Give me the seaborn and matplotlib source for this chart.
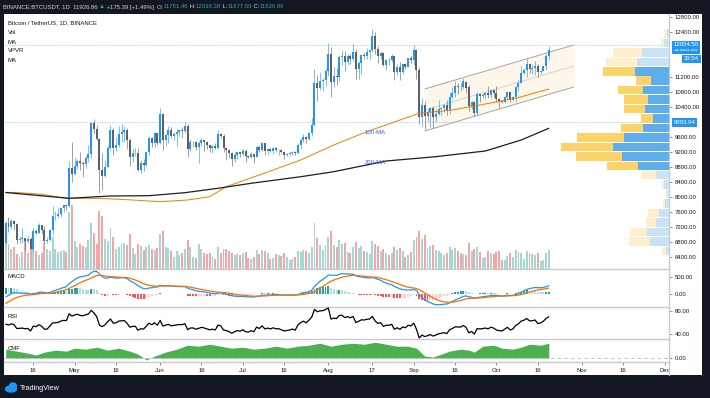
import numpy as np
import pandas as pd
import matplotlib
matplotlib.use("Agg")
import matplotlib.pyplot as plt
import matplotlib.dates as mdates
import matplotlib.transforms as mtransforms
from matplotlib.patches import Rectangle, Ellipse
from matplotlib.lines import Line2D
import seaborn as sns

# ---------------- data (daily candles, 2020-04-06 .. 2020-10-20) ----------------
first_day = "2020-04-06"
closes = [
    7296, 7197, 7361, 7283, 6858, 6877, 6903, 6837, 6868, 6621, 7097, 7046, 7255, 7127, 6835, 6849, 7131, 7483, 7505, 7539, 7697, 7774, 7758, 8785, 8621,
    8826, 8973, 8894, 8872, 9031, 9151, 9986, 9804, 9541, 8723, 8561, 8810, 9310, 9792, 9316, 9381, 9681, 9733, 9775, 9511, 9068, 9170, 9179, 8720, 8900, 8842, 9204, 9575, 9427, 9698, 9448,
    10200, 9518, 9666, 9789, 9622, 9667, 9746, 9782, 9772, 9885, 9280, 9466, 9474, 9343, 9427, 9525, 9465, 9386, 9310, 9358, 9294, 9686, 9624, 9296, 9250, 9162, 9012, 9116, 9192, 9138,
    9232, 9087, 9058, 9135, 9070, 9342, 9253, 9428, 9233, 9288, 9234, 9303, 9243, 9252, 9189, 9132, 9154, 9171, 9209, 9162, 9391, 9519, 9603, 9538, 9700, 9932, 11030, 10909, 11100, 11112, 11351,
    11801, 11072, 11230, 11190, 11744, 11762, 11595, 11755, 11676, 11878, 11411, 11584, 11784, 11769, 11865, 11911, 12281, 11945, 11755, 11853, 11529, 11664, 11649, 11752, 11322, 11462, 11323, 11537, 11471, 11700, 11649,
    11921, 11388, 10140, 10446, 10166, 10256, 10373, 10126, 10221, 10336, 10386, 10441, 10329, 10671, 10785, 10954, 10939, 10933, 11080, 10920, 10417, 10529, 10241, 10736, 10686, 10728, 10775, 10709, 10844, 10776,
    10619, 10570, 10542, 10666, 10788, 10599, 10669, 10925, 11050, 11296, 11384, 11555, 11426, 11430, 11506, 11323, 11362, 11496, 11751, 11927,
]
highs = [
    7355, 7459, 7420, 7378, 7295, 6950, 7177, 6910, 6990, 6940, 7180, 7150, 7310, 7265, 7220, 6943, 7155, 7760, 7615, 7700, 7720, 7795, 7780, 8950, 9460,
    9060, 9010, 9200, 8950, 9100, 9395, 9990, 10067, 9915, 9574, 9168, 8980, 9400, 9930, 9845, 9588, 9888, 9950, 9900, 9842, 9567, 9271, 9310, 9300, 8979, 9016, 9225, 9625, 9609, 9740, 9700,
    10380, 10228, 9690, 9881, 9858, 9735, 9802, 9800, 9880, 9990, 9950, 9557, 9488, 9494, 9500, 9580, 9540, 9490, 9400, 9400, 9438, 9780, 9700, 9670, 9324, 9285, 9196, 9190, 9230, 9200,
    9299, 9270, 9125, 9195, 9139, 9376, 9353, 9460, 9450, 9320, 9300, 9343, 9340, 9280, 9275, 9205, 9186, 9190, 9240, 9220, 9430, 9540, 9670, 9640, 9730, 10111, 11420, 11250, 11345, 11180, 11450,
    12120, 12000, 11480, 11430, 11800, 11915, 11900, 11810, 11810, 12068, 11940, 11615, 11800, 11850, 11980, 11930, 12486, 12400, 12020, 11885, 11880, 11690, 11718, 11824, 11770, 11540, 11590, 11550, 11580, 11715, 11770,
    12050, 11950, 11460, 10630, 10570, 10340, 10410, 10440, 10350, 10580, 10400, 10480, 10580, 10800, 10940, 11100, 11040, 11040, 11180, 11090, 10990, 10570, 10550, 10790, 10760, 10780, 10800, 10960, 10860, 10860,
    10950, 10640, 10600, 10690, 10800, 10800, 10685, 10955, 11110, 11490, 11430, 11720, 11560, 11550, 11635, 11540, 11400, 11500, 11820, 12038,
]
lows = [
    6766, 7077, 7150, 7108, 6752, 6765, 6780, 6555, 6765, 6605, 6540, 7002, 7033, 7053, 6758, 6780, 6821, 7020, 7388, 7437, 7470, 7608, 7660, 7736, 8400,
    8580, 8753, 8710, 8533, 8763, 8938, 9050, 9715, 9520, 8117, 8200, 8528, 8800, 9256, 9130, 9220, 9330, 9464, 9460, 9286, 8815, 8933, 9090, 8700, 8632, 8700, 8811, 9110, 9330, 9335, 9380,
    9420, 9266, 9365, 9450, 9581, 9528, 9373, 9633, 9570, 9700, 9080, 9232, 9325, 9246, 8910, 9366, 9237, 9288, 9208, 9181, 9276, 9282, 9574, 9205, 8994, 9035, 8833, 8938, 9014, 9062,
    9094, 8940, 9040, 9050, 8900, 9060, 9198, 9235, 9130, 9115, 9190, 9150, 9200, 9112, 9170, 9005, 9090, 9120, 9125, 9130, 9147, 9280, 9460, 9450, 9525, 9640, 9900, 10560, 10850, 10840, 10970,
    11216, 10660, 10930, 11000, 11093, 11530, 11350, 11520, 11560, 11630, 11150, 11160, 11280, 11685, 11690, 11670, 11880, 11815, 11570, 11675, 11500, 11380, 11525, 11590, 11120, 11260, 11125, 11285, 11420, 11460, 11575,
    11520, 11160, 9960, 9870, 9825, 10040, 9875, 9850, 10000, 10200, 10200, 10260, 10200, 10215, 10620, 10670, 10740, 10820, 10890, 10780, 10300, 10350, 10150, 10190, 10530, 10640, 10620, 10650, 10640, 10670,
    10525, 10380, 10500, 10520, 10610, 10530, 10570, 10530, 10830, 11050, 11270, 11200, 11300, 11270, 11250, 11200, 11290, 11350, 11400, 11677,
]
# volume, thousand BTC
volumes = [
    82, 62, 50, 55, 37, 30, 42, 70, 40, 55, 75, 45, 35, 40, 65, 50, 45, 80, 50, 42, 45, 48, 42, 142, 160,
    70, 55, 62, 58, 55, 72, 115, 90, 62, 145, 132, 75, 70, 102, 80, 50, 55, 62, 65, 60, 88, 52, 38, 62, 58, 48, 55, 60, 50, 48, 52,
    88, 95, 55, 52, 45, 30, 45, 35, 40, 50, 72, 55, 30, 28, 62, 50, 40, 38, 40, 30, 25, 55, 40, 50, 50, 45, 40, 35, 38, 35,
    40, 42, 28, 25, 30, 48, 38, 48, 45, 40, 25, 28, 38, 35, 32, 40, 30, 22, 25, 30, 45, 42, 48, 45, 40, 55, 115, 78, 60, 48, 60,
    80, 95, 60, 55, 72, 62, 65, 42, 40, 55, 68, 52, 58, 45, 42, 38, 70, 62, 58, 45, 50, 40, 35, 40, 55, 48, 52, 45, 30, 35, 42,
    72, 80, 95, 75, 85, 52, 58, 60, 48, 45, 40, 35, 40, 55, 48, 52, 45, 40, 38, 35, 65, 45, 50, 55, 42, 28, 30, 45, 40, 38,
    42, 45, 22, 22, 32, 40, 30, 48, 42, 40, 25, 45, 40, 38, 35, 40, 20, 22, 40, 48,
]
# closes before the visible window (2020-02-15 .. 2020-04-05), used to seed MACD / RSI
warmup_closes = [
    9900, 9930, 9700, 10180, 9600, 9610, 9690, 9660, 9960, 9660, 9320, 8790, 8790, 8670, 8530,
    8530, 8920, 8760, 8760, 9070, 9150, 8890, 8030, 7935, 7895, 7935, 4800, 5580, 5170, 5360, 5030,
    5330, 5420, 6190, 6190, 6190, 5830, 6470, 6760, 6690, 6760, 6370, 6250, 5880, 6390, 6410,
    6640, 6790, 6735, 6860, 6775,
]

ma100_dates = ["2020-04-06", "2020-04-11", "2020-04-19", "2020-04-28", "2020-05-10", "2020-05-22", "2020-06-01",
               "2020-06-11", "2020-06-19", "2020-06-25", "2020-07-07", "2020-07-22", "2020-08-03", "2020-08-15",
               "2020-08-27", "2020-09-03", "2020-09-15", "2020-09-25", "2020-10-08", "2020-10-20"]
ma100_values = [8125, 8115, 8072, 7965, 7965, 7920, 7875, 7920, 8008, 8275, 8587, 8987, 9387, 9742,
                10053, 10232, 10320, 10453, 10632, 10880]
ma200_dates = ["2020-04-06", "2020-04-16", "2020-04-29", "2020-05-14", "2020-05-28", "2020-06-10", "2020-06-22",
               "2020-07-04", "2020-07-22", "2020-08-03", "2020-08-22", "2020-09-09", "2020-09-27", "2020-10-10",
               "2020-10-20"]
ma200_values = [8120, 8053, 7965, 8027, 8035, 8115, 8232, 8365, 8541, 8675, 8960, 9075, 9227, 9520, 9832]

cmf_dates = ["2020-04-06", "2020-04-10", "2020-04-14", "2020-04-17", "2020-04-20", "2020-04-24", "2020-04-28",
             "2020-05-01", "2020-05-05", "2020-05-09", "2020-05-13", "2020-05-17", "2020-05-21", "2020-05-24",
             "2020-05-27", "2020-05-30", "2020-06-03", "2020-06-07", "2020-06-11", "2020-06-15", "2020-06-19",
             "2020-06-23", "2020-06-27", "2020-07-01", "2020-07-05", "2020-07-09", "2020-07-13", "2020-07-17",
             "2020-07-21", "2020-07-25", "2020-07-29", "2020-08-02", "2020-08-06", "2020-08-10", "2020-08-14",
             "2020-08-18", "2020-08-22", "2020-08-26", "2020-08-30", "2020-09-02", "2020-09-05", "2020-09-08",
             "2020-09-11", "2020-09-14", "2020-09-18", "2020-09-21", "2020-09-23", "2020-09-26", "2020-09-30",
             "2020-10-03", "2020-10-07", "2020-10-10", "2020-10-13", "2020-10-17", "2020-10-20"]
cmf_values = [0.09, 0.07, 0.05, 0.03, 0.06, 0.08, 0.07, 0.10, 0.09, 0.11, 0.08, 0.10, 0.07, 0.04,
              -0.02, 0.02, 0.06, 0.09, 0.13, 0.12, 0.14, 0.12, 0.10, 0.11, 0.09, 0.10, 0.12, 0.10,
              0.12, 0.13, 0.15, 0.12, 0.14, 0.15, 0.14, 0.16, 0.14, 0.12, 0.12, 0.10, 0.02, 0.01,
              0.04, 0.07, 0.09, 0.08, 0.06, 0.12, 0.13, 0.10, 0.09, 0.11, 0.14, 0.13, 0.15]

channel_dates = ["2020-09-05", "2020-10-29"]
channel_upper = [10880, 12053]
channel_lower = [9760, 10933]

# visible range volume profile, 24 rows, bottom -> top
vp_low, vp_high = 6440, 12486
vp_up = [60, 380, 434, 260, 206, 80, 34, 100, 260, 626, 946, 1114, 894, 520, 314, 474, 426, 526, 360, 680, 646, 546, 100, 40]
vp_down = [86, 420, 346, 200, 208, 40, 26, 46, 274, 608, 920, 1046, 952, 440, 246, 420, 468, 494, 300, 634, 614, 580, 66, 60]
vp_value_area = range(9, 20)

shown_price_ticks = [6400, 6800, 7200, 7600, 8000, 8400, 8800, 9200, 9600, 10400, 10800, 11200, 12400, 12800]
tick_dates = ["2020-04-16", "2020-05-01", "2020-05-16", "2020-06-01", "2020-06-16", "2020-07-01", "2020-07-16",
              "2020-08-01", "2020-08-17", "2020-09-01", "2020-09-16", "2020-10-01", "2020-10-16", "2020-11-01",
              "2020-11-16", "2020-12-01"]
tick_labels = ["16", "May", "16", "Jun", "16", "Jul", "16", "Aug", "17", "Sep", "16", "Oct", "16", "Nov", "16", "Dec"]

# ---------------- derived series ----------------
def dnum(d):
    return mdates.date2num(pd.to_datetime(d))

x = mdates.date2num(pd.date_range(first_day, periods=len(closes), freq="D"))
c = np.array(closes, float)
o = np.array([warmup_closes[-1]] + closes[:-1], float)
up = c >= o

allc = pd.Series(warmup_closes + closes, dtype=float)
ema12 = allc.ewm(span=12, adjust=False).mean()
ema26 = allc.ewm(span=26, adjust=False).mean()
macd = ema12 - ema26
signal = macd.ewm(span=9, adjust=False).mean()
hist = macd - signal
delta = allc.diff()
gain = delta.clip(lower=0).ewm(alpha=1 / 14, adjust=False).mean()
loss = (-delta.clip(upper=0)).ewm(alpha=1 / 14, adjust=False).mean()
rsi = 100 - 100 / (1 + gain / loss)
n = len(closes)
macd, signal, hist, rsi = (s.to_numpy()[-n:] for s in (macd, signal, hist, rsi))
hist_prev = np.concatenate([[hist[0]], hist[:-1]])

# ---------------- styling ----------------
sns.set_theme(style="white")
plt.rcParams["font.family"] = ["Liberation Sans", "DejaVu Sans"]

W, H = 710, 398
BG = "#131722"
UP, DOWN = "#2196f3", "#5d606b"
SEP = "#c9cbd1"
TXT = "#131722"
FS = 4.3


def rect(x0, y0, x1, y1):
    return [x0 / W, 1 - y1 / H, (x1 - x0) / W, (y1 - y0) / H]


fig = plt.figure(figsize=(W / 100, H / 100), dpi=100, facecolor=BG)
fig.add_artist(Rectangle((4 / W, 1 - 375 / H), 698 / W, 361 / H, transform=fig.transFigure,
                         facecolor="white", edgecolor="none", zorder=-10))

xlim = (dnum("2020-04-16") - 10.63, dnum("2020-04-16") + 230.6)
ylim = (6080, 12880)

ax_vol = fig.add_axes(rect(4, 14, 669, 269))
ax = fig.add_axes(rect(4, 14, 669, 269))
ax_vp = fig.add_axes(rect(4, 14, 669, 269))
ax_macd = fig.add_axes(rect(4, 269, 669, 307))
ax_rsi = fig.add_axes(rect(4, 307, 669, 339))
ax_cmf = fig.add_axes(rect(4, 339, 669, 362))

for a in (ax_vol, ax, ax_vp, ax_macd, ax_rsi, ax_cmf):
    a.set_facecolor("none")
    a.set_xlim(*xlim)
    for s in ("top", "left"):
        a.spines[s].set_visible(False)
    for s in ("right", "bottom"):
        a.spines[s].set_color(SEP)
        a.spines[s].set_linewidth(1.0)
    a.tick_params(axis="x", bottom=False, labelbottom=False)
    a.yaxis.tick_right()
    a.tick_params(axis="y", right=True, length=2, width=0.6, color="#787b86", pad=2,
                  labelsize=FS, labelcolor=TXT)
ax_vol.axis("off")
ax_vp.axis("off")

# volume under the candles
ax_vol.bar(x, volumes, width=0.7, color=np.where(up, "#a5d8d2", "#f5a6a4"), linewidth=0)
ax_vol.set_ylim(0, 640)

# price panel
ax.set_ylim(*ylim)
ax.set_yticks(shown_price_ticks)
ax.set_yticklabels([f"{p:.2f}" for p in shown_price_ticks])

cx = [dnum(d) for d in channel_dates]
mid = [(a + b) / 2 for a, b in zip(channel_upper, channel_lower)]
ax.fill_between(cx, channel_lower, channel_upper, color="#fdf3e4", alpha=0.75, linewidth=0, zorder=1)
ax.plot(cx, channel_upper, color="#aaa59e", lw=0.7, zorder=1.5)
ax.plot(cx, channel_lower, color="#aaa59e", lw=0.7, zorder=1.5)
ax.plot(cx, mid, color="#d3cec7", lw=0.6, zorder=1.5)

for lvl in (12054.50, 9993.94):
    ax.axhline(lvl, color="#9cc7f2", lw=0.6, ls=(0, (1.5, 1.5)), zorder=1)

colors = np.where(up, UP, DOWN)
ax.vlines(x, lows, highs, colors=colors, linewidth=0.6, alpha=0.7, zorder=2)
ax.bar(x, np.maximum(np.abs(c - o), 12), bottom=np.minimum(o, c), width=0.72,
       color=colors, linewidth=0, zorder=3)

sns.lineplot(x=[dnum(d) for d in ma100_dates], y=ma100_values, ax=ax, color="#f57c00", lw=0.7, zorder=4)
sns.lineplot(x=[dnum(d) for d in ma200_dates], y=ma200_values, ax=ax, color="#1e1e1e", lw=0.9, zorder=4)
ax.text(dnum("2020-08-18"), 9707, "100-MA", color="#3d5afe", fontsize=FS, ha="center", va="center", zorder=5)
ax.text(dnum("2020-08-18"), 8933, "200-MA", color="#3d5afe", fontsize=FS, ha="center", va="center", zorder=5)
ax.set_xlim(*xlim)
ax.set_ylim(*ylim)
ax.set_xlabel("")
ax.set_ylabel("")

# volume profile (visible range), drawn from the right edge
step = (vp_high - vp_low) / len(vp_up)
rows = [vp_low + step * (i + 0.5) for i in range(len(vp_up))]
inside = [i in vp_value_area for i in range(len(vp_up))]
ax_vp.barh(rows, vp_up, height=step * 0.9, left=0,
           color=["#5eaeec" if k else "#c8e2f6" for k in inside], linewidth=0)
ax_vp.barh(rows, vp_down, height=step * 0.9, left=vp_up,
           color=["#fbd369" if k else "#fdefcb" for k in inside], linewidth=0)
ax_vp.set_xlim(665 * 20, 0)
ax_vp.set_ylim(*ylim)

# price tags on the scale
tr = mtransforms.blended_transform_factory(ax.transAxes, ax.transData)
for lvl, txt in ((11926.86, "11926.86"), (12054.50, "12054.50"), (9993.94, "9993.94")):
    ax.text(1.007, lvl, txt, transform=tr, color="white", fontsize=FS, ha="left", va="center",
            bbox=dict(boxstyle="square,pad=0.3", fc="#2196f3", ec="none"), clip_on=False, zorder=10)
ax.text(1.0 + 30 / 665, 11680, "33:54", transform=tr, color="white", fontsize=FS, ha="right", va="center",
        bbox=dict(boxstyle="square,pad=0.3", fc="#2196f3", ec="none"), clip_on=False, zorder=10)

# MACD
hist_cols = np.where(hist >= 0, np.where(hist >= hist_prev, "#26a69a", "#b2dfdb"),
                     np.where(hist < hist_prev, "#ff5252", "#ffcdd2"))
ax_macd.bar(x, hist, width=0.7, color=hist_cols, linewidth=0)
sns.lineplot(x=x, y=macd, ax=ax_macd, color="#2196f3", lw=0.9)
sns.lineplot(x=x, y=signal, ax=ax_macd, color="#ff6d00", lw=0.9)
ax_macd.set_ylim(-382, 735)
ax_macd.set_yticks([0, 500])
ax_macd.set_yticklabels(["0.00", "500.00"])

# RSI
sns.lineplot(x=x, y=rsi, ax=ax_rsi, color="black", lw=0.9)
ax_rsi.set_ylim(31.3, 87)
ax_rsi.set_yticks([40, 80])
ax_rsi.set_yticklabels(["40.00", "80.00"])

# CMF
cmx = [dnum(d) for d in cmf_dates]
ax_cmf.axhline(0, color="#c4c6cc", lw=0.8, ls=(0, (3, 3)))
ax_cmf.fill_between(cmx, 0, cmf_values, color="#4caf50", linewidth=0)
ax_cmf.set_ylim(-0.04, 0.193)
ax_cmf.set_yticks([0])
ax_cmf.set_yticklabels(["0.00"])
ax_cmf.set_xticks([dnum(d) for d in tick_dates])
ax_cmf.set_xticklabels(tick_labels)
ax_cmf.tick_params(axis="x", bottom=True, labelbottom=True, length=2, width=0.6, color="#787b86",
                   pad=2, labelsize=FS, labelcolor=TXT)

for a in (ax_macd, ax_rsi, ax_cmf):
    a.set_xlim(*xlim)
    a.set_xlabel("")
    a.set_ylabel("")

fig.add_artist(Line2D([669 / W, 669 / W], [1 - 375 / H, 1 - 362 / H], color=SEP, lw=1.0,
                      transform=fig.transFigure))

# texts
for ypx, s in ((23, "Bitcoin / TetherUS, 1D, BINANCE"), (33, "Vol"), (42, "MA"), (51, "VPVR"), (61, "MA"),
               (277, "MACD"), (316, "RSI"), (349, "CMF")):
    fig.text(8 / W, 1 - ypx / H, s, color=TXT, fontsize=FS, ha="left", va="center")

renderer = fig.canvas.get_renderer()
pieces = [("BINANCE:BTCUSDT, 1D  11926.86 ", "#d1d4dc"), ("\u25b2", "#26a69a"),
          (" +175.39 [+1.49%]  O:", "#d1d4dc"), ("11751.46", "#26a69a"), (" H:", "#d1d4dc"),
          ("12038.38", "#26a69a"), (" L:", "#d1d4dc"), ("11677.59", "#26a69a"), (" C:", "#d1d4dc"),
          ("11926.86", "#26a69a")]
xpos = 3
for s, col in pieces:
    t = fig.text(xpos / W, 1 - 7 / H, s, color=col, fontsize=FS, ha="left", va="center")
    xpos += t.get_window_extent(renderer).width

fig.add_artist(Ellipse((11 / W, 1 - 389 / H), 11 / W, 6 / H, transform=fig.transFigure, color="#2196f3"))
fig.add_artist(Ellipse((13 / W, 1 - 386 / H), 7 / W, 6 / H, transform=fig.transFigure, color="#2196f3"))
fig.text(20 / W, 1 - 388 / H, "TradingView", color="white", fontsize=5.2, ha="left", va="center")

fig.savefig("out.png", dpi=100, facecolor=BG)
